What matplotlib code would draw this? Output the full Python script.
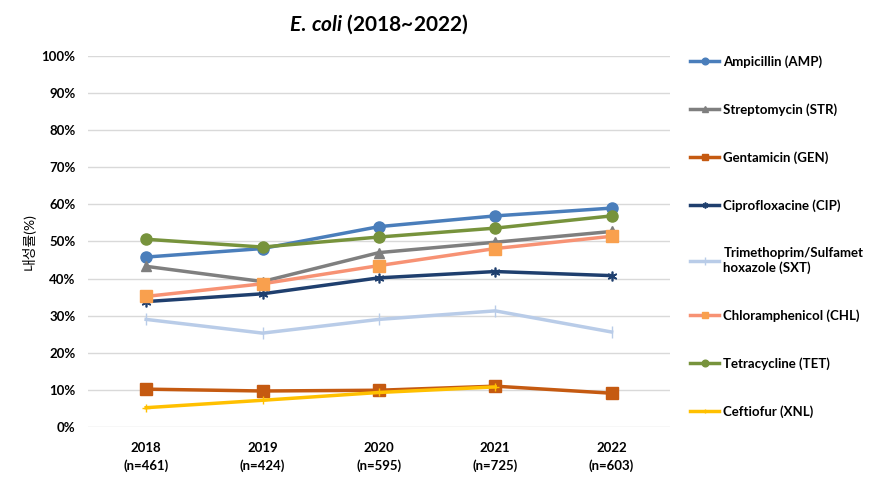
import numpy as np
import matplotlib
matplotlib.use('Agg')
import matplotlib.pyplot as plt
from matplotlib.ticker import PercentFormatter

plt.rcParams['font.family'] = ['Lato', 'Noto Sans CJK KR', 'DejaVu Sans']
plt.rcParams['mathtext.fontset'] = 'custom'
plt.rcParams['mathtext.it'] = 'Lato:italic:bold'
plt.rcParams['mathtext.rm'] = 'Lato:bold'

# Data (resistance rate, %)
years = ['2018\n(n=461)', '2019\n(n=424)', '2020\n(n=595)', '2021\n(n=725)', '2022\n(n=603)']
amp = [45.8, 48.1, 54.0, 56.9, 59.0]
stre = [43.3, 39.2, 47.0, 49.8, 52.7]
gen = [10.2, 9.7, 9.9, 11.0, 9.1]
cip = [33.8, 35.9, 40.2, 41.9, 40.8]
sxt = [29.0, 25.3, 29.0, 31.3, 25.6]
chl = [35.2, 38.6, 43.5, 48.1, 51.4]
tet = [50.6, 48.5, 51.2, 53.6, 56.9]
xnl = [5.2, 7.2, 9.3, 10.8, np.nan]

x = np.arange(len(years))

fig = plt.figure(figsize=(8.71, 4.79), dpi=100)
ax = fig.add_axes([0.101, 0.1086, 0.668, 0.7745])

ax.plot(x, amp, color='#4A7EBB', lw=2.5, marker='o', ms=8, label='Ampicillin (AMP)')
ax.plot(x, stre, color='#7F7F7F', lw=2.5, marker='^', ms=7, label='Streptomycin (STR)')
ax.plot(x, gen, color='#C55A11', lw=2.5, marker='s', ms=8, label='Gentamicin (GEN)')
ax.plot(x, cip, color='#1F3F6E', lw=2.5, marker=(6, 2, 0), ms=7, mew=1.2, label='Ciprofloxacine (CIP)')
ax.plot(x, sxt, color='#B9CCE8', lw=2.5, marker='|', ms=9, mew=1, label='Trimethoprim/Sulfamet\nhoxazole (SXT)')
ax.plot(x, chl, color='#F79274', lw=2.5, marker='s', ms=8, mfc='#F9A04E', mec='#F9A04E',
        label='Chloramphenicol (CHL)')
ax.plot(x, tet, color='#77933C', lw=2.5, marker='o', ms=8, label='Tetracycline (TET)')
ax.plot(x, xnl, color='#FFC000', lw=2.5, marker='+', ms=6, label='Ceftiofur (XNL)')

ax.set_xlim(-0.5, len(years) - 0.5)
ax.set_ylim(0, 100)
ax.set_yticks(np.arange(0, 101, 10))
ax.yaxis.set_major_formatter(PercentFormatter(decimals=0))
ax.set_xticks(x)
ax.set_xticklabels(years, fontsize=9.5, fontweight='bold', linespacing=1.5)
for lab in ax.get_yticklabels():
    lab.set_fontsize(9.5)
    lab.set_fontweight('bold')
ax.tick_params(length=0, pad=9)
ax.tick_params(axis='x', pad=11)
ax.grid(axis='y', color='#D9D9D9', lw=1)
ax.set_axisbelow(True)
for s in ax.spines.values():
    s.set_visible(False)

ax.set_ylabel('내성률(%)', fontsize=10, labelpad=4)
ax.set_title(r'$\mathit{E.\,coli}$ (2018~2022)', fontsize=15, fontweight='bold', pad=18)

leg = ax.legend(loc='upper left', bbox_to_anchor=(1.015, 1.035), frameon=False,
                prop={'size': 9.5, 'weight': 'bold'}, labelspacing=2.68,
                handlelength=2.2, handletextpad=0.3, markerscale=0.6)

fig.savefig('out.png', dpi=100)
